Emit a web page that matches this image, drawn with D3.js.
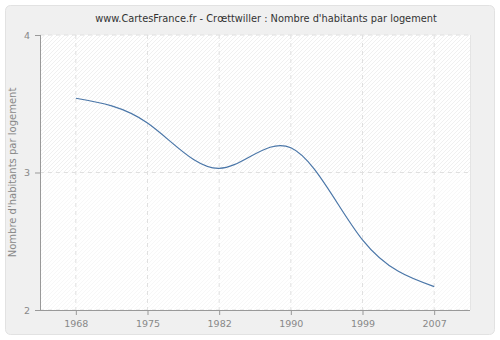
<!DOCTYPE html>
<html><head><meta charset="utf-8">
<script src="https://cdn.jsdelivr.net/npm/d3@7"></script>
<style>body{margin:0;background:#fff;font-family:"DejaVu Sans",Verdana,sans-serif}</style>
</head><body>
<svg id="c" width="500" height="340"></svg>
<script>
const years = ["1968","1975","1982","1990","1999","2007"];
const values = [3.54, 3.36, 3.03, 3.18, 2.51, 2.17];
const yTicks = [2, 3, 4];
const title = "www.CartesFrance.fr - Crœttwiller : Nombre d'habitants par logement";
const yLabel = "Nombre d'habitants par logement";

const svg = d3.select("#c");
const W = 500, H = 340;
const m = {l: 40, r: 30, t: 35, b: 30};
const x = d3.scalePoint().domain(years).range([m.l, W - m.r]).padding(0.5);
const y = d3.scaleLinear().domain([2, 4]).range([H - m.b, m.t]);

const defs = svg.append("defs");
function hatch(id, col) {
  const p = defs.append("pattern").attr("id", id).attr("patternUnits", "userSpaceOnUse")
    .attr("width", 4).attr("height", 4);
  p.append("rect").attr("width", 4).attr("height", 4).attr("fill", "#fff");
  p.append("path").attr("d", "M-1,1 l2,-2 M0,4 l4,-4 M3,5 l2,-2").attr("stroke", col).attr("stroke-width", 0.7);
}
hatch("h1", "#eaeaea");
hatch("h2", "#f3f3f3");

svg.append("rect").attr("x", 0).attr("y", 0).attr("width", W).attr("height", H).attr("fill", "#fff");
svg.append("rect").attr("x", 5.5).attr("y", 5.5).attr("width", W - 11).attr("height", H - 11)
  .attr("rx", 5).attr("fill", "#f0f0f0").attr("stroke", "#e2e2e2");

svg.append("rect").attr("x", m.l).attr("y", y(4)).attr("width", W - m.r - m.l).attr("height", y(3) - y(4)).attr("fill", "url(#h1)");
svg.append("rect").attr("x", m.l).attr("y", y(3)).attr("width", W - m.r - m.l).attr("height", y(2) - y(3)).attr("fill", "url(#h2)");

const g = svg.append("g");
years.forEach(d => {
  g.append("line").attr("x1", x(d)).attr("x2", x(d)).attr("y1", m.t).attr("y2", H - m.b)
    .attr("stroke", "#e0e0e0").attr("stroke-dasharray", "4,4");
});
yTicks.forEach(v => {
  g.append("line").attr("x1", m.l).attr("x2", W - m.r).attr("y1", y(v)).attr("y2", y(v))
    .attr("stroke", "#e0e0e0").attr("stroke-dasharray", "4,4");
});
svg.append("line").attr("x1", W - m.r + 0.5).attr("x2", W - m.r + 0.5).attr("y1", m.t).attr("y2", H - m.b).attr("stroke", "#e4e4e4");

const yAxis = svg.append("g").attr("transform", `translate(${m.l},0)`)
  .call(d3.axisLeft(y).tickValues(yTicks).tickSize(5).tickPadding(5).tickFormat(d3.format("d")));
const xAxis = svg.append("g").attr("transform", `translate(0,${H - m.b})`)
  .call(d3.axisBottom(x).tickSize(5).tickPadding(5));
[yAxis, xAxis].forEach(a => {
  a.select(".domain").attr("stroke", "#999");
  a.selectAll(".tick line").attr("stroke", "#999");
  a.selectAll("text").attr("fill", "#888").attr("font-size", 9.5).attr("font-family", "DejaVu Sans, Verdana, sans-serif");
});
xAxis.select(".domain").attr("d", `M${m.l},0.5H${W - m.r}`);
yAxis.select(".domain").attr("d", `M0.5,${m.t}V${H - m.b}`);

svg.append("path").datum(years.map((d, i) => [x(d), y(values[i])]))
  .attr("d", d3.line().curve(d3.curveNatural))
  .attr("fill", "none").attr("stroke", "#4a76a8").attr("stroke-width", 1.2);

svg.append("text").attr("x", 266).attr("y", 22).attr("text-anchor", "middle")
  .attr("font-size", 9.8).attr("fill", "#333").text(title);
svg.append("text").attr("transform", `translate(16,${(m.t + H - m.b) / 2}) rotate(-90)`)
  .attr("text-anchor", "middle").attr("font-size", 10).attr("fill", "#888").text(yLabel);
</script>
</body></html>
